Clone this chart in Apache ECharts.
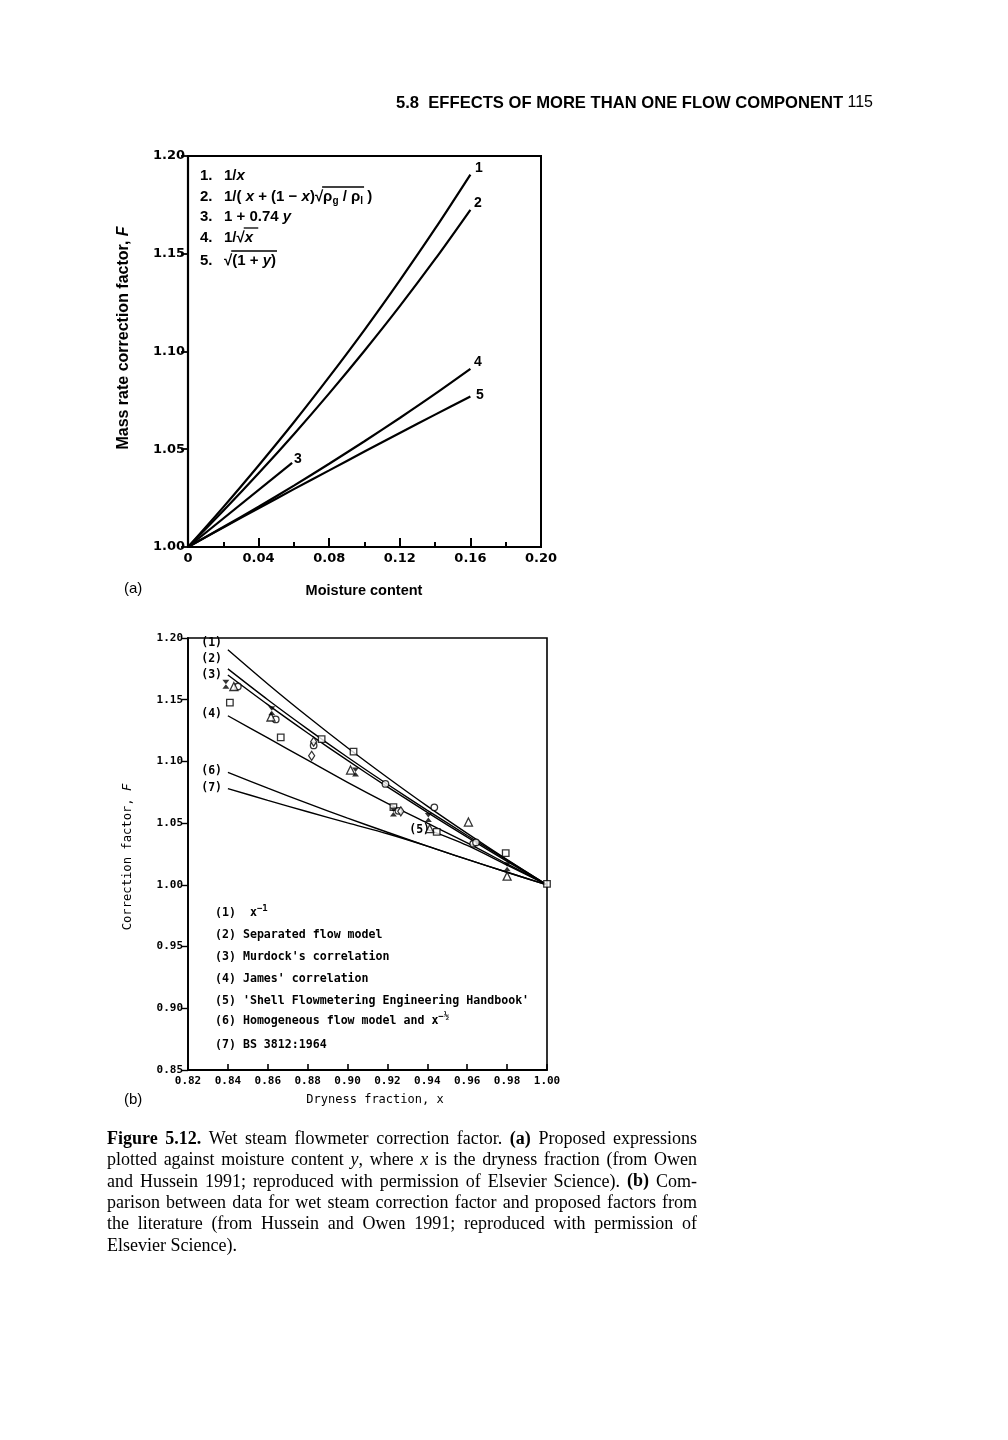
<!DOCTYPE html>
<html><head><meta charset="utf-8">
<script src="https://cdn.jsdelivr.net/npm/echarts@6/dist/echarts.min.js"></script>
<style>html,body{margin:0;padding:0;background:#fff}#c{width:1008px;height:1440px}</style>
</head><body><div id="c"></div>
<script>
// ---------- Data: panel (a) ----------
const moistureA = [0, 0.02, 0.04, 0.06, 0.08, 0.10, 0.12, 0.14, 0.16];
const curveA1 = [1.0000, 1.0204, 1.0417, 1.0638, 1.0870, 1.1111, 1.1364, 1.1628, 1.1905];
const curveA2 = [1.0000, 1.0185, 1.0377, 1.0577, 1.0786, 1.1004, 1.1232, 1.1472, 1.1725];
const moistureA3 = [0, 0.059];
const curveA3 = [1.000, 1.043];
const curveA4 = [1.0000, 1.0102, 1.0206, 1.0314, 1.0426, 1.0541, 1.0660, 1.0783, 1.0911];
const curveA5 = [1.0000, 1.0100, 1.0198, 1.0296, 1.0392, 1.0488, 1.0583, 1.0677, 1.0770];
const labelsA = ['1', '2', '3', '4', '5'];

// ---------- Data: panel (b) ----------
const drynessB = [0.84, 0.86, 0.88, 0.90, 0.92, 0.94, 0.96, 0.98, 1.00];
const lineB1 = [1.1905, 1.1628, 1.1364, 1.1111, 1.0870, 1.0638, 1.0417, 1.0204, 1.0000];
const lineB2 = [1.1750, 1.1500, 1.1262, 1.1034, 1.0815, 1.0604, 1.0400, 1.0200, 1.0000];
const lineB3 = [1.1700, 1.1460, 1.1230, 1.1008, 1.0794, 1.0587, 1.0386, 1.0190, 1.0000];
const lineB4 = [1.1370, 1.1190, 1.1010, 1.0830, 1.0660, 1.0500, 1.0340, 1.0170, 1.0000];
const drynessB5 = [0.94, 0.96, 0.98, 1.00];
const lineB5 = [1.0450, 1.0320, 1.0160, 1.0000];
const lineB6 = [1.0911, 1.0783, 1.0660, 1.0541, 1.0426, 1.0314, 1.0206, 1.0102, 1.0000];
const lineB7 = [1.0780, 1.0685, 1.0592, 1.0502, 1.0414, 1.0314, 1.0206, 1.0102, 1.0000];

const squaresX = [0.841, 0.8665, 0.887, 0.903, 0.923, 0.9447, 0.9793, 1.000];
const squaresY = [1.1476, 1.1195, 1.118, 1.108, 1.063, 1.0430, 1.0257, 1.0008];
const circlesX = [0.845, 0.864, 0.883, 0.919, 0.9435, 0.963, 0.9644, 0.9255];
const circlesY = [1.1607, 1.134, 1.113, 1.0818, 1.0628, 1.0333, 1.0344, 1.0600];
const diamondsX = [0.882, 0.883, 0.9267];
const diamondsY = [1.1046, 1.116, 1.0596];
const trianglesX = [0.843, 0.8616, 0.9015, 0.9412, 0.9606, 0.980];
const trianglesY = [1.1607, 1.136, 1.093, 1.0455, 1.0509, 1.0070];
const hourglassX = [0.839, 0.862, 0.904, 0.923, 0.9405, 0.980];
const hourglassY = [1.1626, 1.141, 1.0915, 1.059, 1.0545, 1.0147];

const zip = (xs, ys) => xs.map((x, k) => [x, ys[k]]);

const chart = echarts.init(document.getElementById('c'), null, {renderer: 'canvas'});

const SANS = '"Liberation Sans", Arial, sans-serif';
const DSANS = '"DejaVu Sans", sans-serif';
const MONO = '"DejaVu Sans Mono", monospace';
const SERIF = '"Liberation Serif", "Times New Roman", serif';

function lineA(data, width) {
  return {type: 'line', xAxisIndex: 0, yAxisIndex: 0, data: data, showSymbol: false, smooth: 0.3,
    lineStyle: {color: '#000', width: width || 2.2}, animation: false, silent: true};
}
function lineB(data) {
  return {type: 'line', xAxisIndex: 1, yAxisIndex: 1, data: data, showSymbol: false, smooth: 0.3,
    lineStyle: {color: '#000', width: 1.4}, animation: false, silent: true};
}
function scatB(data, symbol, size, filled) {
  return {type: 'scatter', xAxisIndex: 1, yAxisIndex: 1, data: data, symbol: symbol, symbolSize: size,
    itemStyle: filled ? {color: '#000'} : {color: '#fff', borderColor: '#000', borderWidth: 1.3},
    animation: false, silent: true, z: 5};
}

// ---------- Text elements ----------
const graphics = [];
const mctx = document.createElement('canvas').getContext('2d');
function measure(t, font) { mctx.font = font; return mctx.measureText(t).width; }
function txt(x, y, text, font, align, extra) {
  const el = {type: 'text', x: x, y: y, silent: true,
    style: Object.assign({text: text, font: font, fill: '#000', textAlign: align || 'left', textVerticalAlign: 'middle', verticalAlign: 'middle'}, extra || {})};
  graphics.push(el);
  return el;
}
function seg(x1, y1, x2, y2, w) {
  graphics.push({type: 'line', silent: true, shape: {x1: x1, y1: y1, x2: x2, y2: y2}, style: {stroke: '#000', lineWidth: w || 1.3}});
}

// header
txt(396, 103, '5.8  EFFECTS OF MORE THAN ONE FLOW COMPONENT', 'bold 16.6px ' + SANS);
txt(873, 103, '115', '16px ' + SANS, 'right');

// panel (a) legend, composed from measured pieces
const LF = {
  n: 'bold 15px ' + SANS,
  i: 'italic bold 15px ' + SANS,
  s: 'bold 10px ' + SANS
};
const legendRowsA = [
  [['1/', 'n'], ['x', 'i']],
  [['1/( ', 'n'], ['x', 'i'], [' + (1 − ', 'n'], ['x', 'i'], [')', 'n'], ['√', 'n'], ['ρ', 'n', 1], ['g', 's', 1], [' / ', 'n', 1], ['ρ', 'n', 1], ['l', 's', 1], [' )', 'n']],
  [['1 + 0.74 ', 'n'], ['y', 'i']],
  [['1/√', 'n'], ['x', 'i', 1], [' ', 'n', 1]],
  [['√', 'n'], ['(1 + ', 'n', 1], ['y', 'i', 1], [')', 'n', 1]]
];
const legendYA = [176, 197, 217, 238, 261];
legendRowsA.forEach((row, k) => {
  const y = legendYA[k];
  txt(200, y, (k + 1) + '.', LF.n);
  let x = 224, o1 = null, o2 = null;
  row.forEach(p => {
    const f = LF[p[1]];
    const w = measure(p[0], f);
    txt(x, p[1] === 's' ? y + 4 : y, p[0], f);
    if (p[2]) { if (o1 === null) o1 = x; o2 = x + w; }
    x += w;
  });
  if (o1 !== null) seg(o1 - 1, y - 10, o2 + 1, y - 10, 1.3);
});

// panel (a) curve labels
const labAfont = 'bold 14px ' + SANS;
txt(475, 168, labelsA[0], labAfont);
txt(474, 203, labelsA[1], labAfont);
txt(294, 459, labelsA[2], labAfont);
txt(474, 362, labelsA[3], labAfont);
txt(476, 395, labelsA[4], labAfont);

// axis names (a)
txt(124, 338, '{n|Mass rate correction factor, }{i|F}', 'bold 16px ' + SANS, 'center',
  {rich: {n: {font: 'bold 16px ' + SANS, fill: '#000'}, i: {font: 'italic bold 16px ' + SANS, fill: '#000'}}});
graphics[graphics.length - 1].rotation = Math.PI / 2;
txt(364, 591, 'Moisture content', 'bold 14.5px ' + SANS, 'center');
txt(124, 589, '(a)', '15px ' + SANS);

// panel (b) line labels
const labBfont = 'bold 11.5px ' + MONO;
txt(222, 643, '(1)', labBfont, 'right');
txt(222, 659, '(2)', labBfont, 'right');
txt(222, 675, '(3)', labBfont, 'right');
txt(222, 714, '(4)', labBfont, 'right');
txt(430, 830, '(5)', labBfont, 'right');
txt(222, 771, '(6)', labBfont, 'right');
txt(222, 788, '(7)', labBfont, 'right');

// panel (b) legend
const legBfont = 'bold 11.6px ' + MONO;
const richB = {
  n: {font: 'bold 11.6px ' + MONO, fill: '#000'},
  sup: {font: 'bold 9px ' + MONO, fill: '#000', padding: [0, 0, 8, 0]}
};
txt(215, 913, '{n|(1)  x}{sup|−1}', legBfont, 'left', {rich: richB});
txt(215, 935, '(2) Separated flow model', legBfont);
txt(215, 957, "(3) Murdock's correlation", legBfont);
txt(215, 979, "(4) James' correlation", legBfont);
txt(215, 1001, "(5) 'Shell Flowmetering Engineering Handbook'", legBfont);
txt(215, 1021, '{n|(6) Homogeneous flow model and x}{sup|−½}', legBfont, 'left', {rich: richB});
txt(215, 1045, '(7) BS 3812:1964', legBfont);

// axis names (b)
txt(128, 857, '{n|Correction factor, }{i|F}', '12.2px ' + MONO, 'center',
  {rich: {n: {font: '12.2px ' + MONO, fill: '#000'}, i: {font: 'italic 12.2px ' + MONO, fill: '#000'}}});
graphics[graphics.length - 1].rotation = Math.PI / 2;
txt(375, 1100, 'Dryness fraction, x', '12px ' + MONO, 'center');
txt(124, 1100, '(b)', '15px ' + SANS);

// ---------- Caption (justified) ----------
const captionLines = [
  '**Figure 5.12.** Wet steam flowmeter correction factor. **(a)** Proposed expressions',
  'plotted against moisture content *y*, where *x* is the dryness fraction (from Owen',
  'and Hussein 1991; reproduced with permission of Elsevier Science). **(b)** Com-',
  'parison between data for wet steam correction factor and proposed factors from',
  'the literature (from Hussein and Owen 1991; reproduced with permission of',
  'Elsevier Science).'
];
const capLeft = 107, capWidth = 590, capTop = 1139, capStep = 21.4;
function capFont(p, size) { return (p.i ? 'italic ' : '') + (p.b ? 'bold ' : '') + size + 'px ' + SERIF; }
function parseLine(str, state) {
  const words = [];
  for (const w of str.split(' ')) {
    const pieces = []; let cur = '';
    for (let k = 0; k < w.length; k++) {
      if (w[k] === '*' && w[k + 1] === '*') { if (cur) { pieces.push({t: cur, b: state.b, i: state.i}); cur = ''; } state.b = !state.b; k++; continue; }
      if (w[k] === '*') { if (cur) { pieces.push({t: cur, b: state.b, i: state.i}); cur = ''; } state.i = !state.i; continue; }
      cur += w[k];
    }
    if (cur) pieces.push({t: cur, b: state.b, i: state.i});
    words.push(pieces);
  }
  return words;
}
const st = {b: false, i: false};
captionLines.forEach((line, j) => {
  const words = parseLine(line, st);
  const last = j === captionLines.length - 1;
  let size = 18;
  let total, spaceW, gap;
  for (;;) {
    total = 0;
    words.forEach(w => w.forEach(p => { p.w = measure(p.t, capFont(p, size)); total += p.w; }));
    spaceW = measure(' ', capFont({}, size));
    gap = last ? spaceW : (capWidth - total) / (words.length - 1);
    if (gap >= spaceW * 0.8 || size < 15) break;
    size -= 0.25;
  }
  let x = capLeft;
  const y = capTop + j * capStep;
  words.forEach(w => {
    w.forEach(p => { txt(x, y, p.t, capFont(p, size)); x += p.w; });
    x += gap;
  });
});

// ---------- Option ----------
const option = {
  backgroundColor: '#fff',
  animation: false,
  grid: [
    {left: 188, top: 156, width: 353, height: 391, show: true, borderColor: '#000', borderWidth: 2, containLabel: false},
    {left: 188, top: 638, width: 359, height: 432, show: true, borderColor: '#000', borderWidth: 1.6, containLabel: false}
  ],
  xAxis: [
    {type: 'value', gridIndex: 0, min: 0, max: 0.2, interval: 0.04,
      axisLine: {show: true, lineStyle: {color: '#000', width: 2.2}},
      axisTick: {show: true, inside: true, length: 9, lineStyle: {color: '#000', width: 2}},
      minorTick: {show: true, splitNumber: 2, length: 5, lineStyle: {color: '#000', width: 2}},
      splitLine: {show: false}, minorSplitLine: {show: false},
      axisLabel: {color: '#000', fontSize: 13, fontWeight: 'bold', fontFamily: DSANS, margin: 5,
        formatter: v => (v === 0 ? '0' : v.toFixed(2))}},
    {type: 'value', gridIndex: 1, min: 0.82, max: 1.0, interval: 0.02,
      axisLine: {show: true, lineStyle: {color: '#000', width: 1.8}},
      axisTick: {show: true, inside: true, length: 6, lineStyle: {color: '#000', width: 1.6}},
      splitLine: {show: false},
      axisLabel: {color: '#000', fontSize: 11, fontWeight: 'bold', fontFamily: MONO, margin: 6,
        formatter: v => v.toFixed(2)}}
  ],
  yAxis: [
    {type: 'value', gridIndex: 0, min: 1.0, max: 1.2, interval: 0.05,
      axisLine: {show: true, lineStyle: {color: '#000', width: 2.2}},
      axisTick: {show: true, inside: false, length: 7, lineStyle: {color: '#000', width: 1.8}},
      splitLine: {show: false},
      axisLabel: {color: '#000', fontSize: 13, fontWeight: 'bold', fontFamily: DSANS, margin: 3,
        formatter: v => v.toFixed(2)}},
    {type: 'value', gridIndex: 1, min: 0.85, max: 1.2, interval: 0.05,
      axisLine: {show: true, lineStyle: {color: '#000', width: 1.8}},
      axisTick: {show: true, inside: false, length: 6, lineStyle: {color: '#000', width: 1.4}},
      splitLine: {show: false},
      axisLabel: {color: '#000', fontSize: 11, fontWeight: 'bold', fontFamily: MONO, margin: 5,
        formatter: v => v.toFixed(2)}}
  ],
  series: [
    lineA(zip(moistureA, curveA1)),
    lineA(zip(moistureA, curveA2)),
    lineA(zip(moistureA3, curveA3)),
    lineA(zip(moistureA, curveA4)),
    lineA(zip(moistureA, curveA5)),
    lineB(zip(drynessB, lineB1)),
    lineB(zip(drynessB, lineB2)),
    lineB(zip(drynessB, lineB3)),
    lineB(zip(drynessB, lineB4)),
    lineB(zip(drynessB5, lineB5)),
    lineB(zip(drynessB, lineB6)),
    lineB(zip(drynessB, lineB7)),
    scatB(zip(squaresX, squaresY), 'rect', 6.5, false),
    scatB(zip(circlesX, circlesY), 'circle', 6.5, false),
    scatB(zip(diamondsX, diamondsY), 'diamond', [6, 9], false),
    scatB(zip(trianglesX, trianglesY), 'triangle', 8, false),
    scatB(zip(hourglassX, hourglassY), 'path://M0,0L10,0L0,13L10,13Z', [7, 9], true)
  ],
  graphic: {elements: graphics}
};
chart.setOption(option);
</script></body></html>
